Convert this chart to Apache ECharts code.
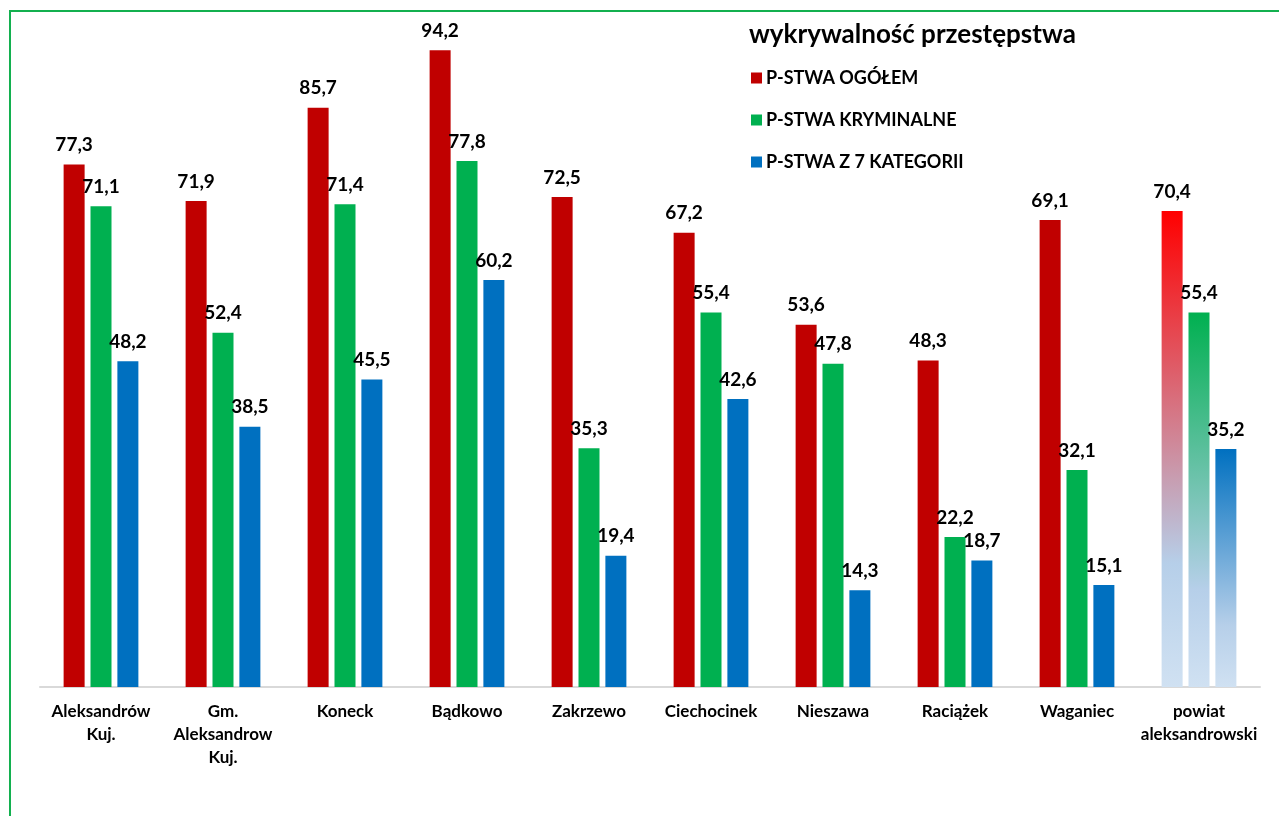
<!DOCTYPE html>
<html>
<head>
<meta charset="utf-8">
<script src="https://cdn.jsdelivr.net/npm/echarts@6/dist/echarts.min.js"></script>
<style>
  html, body { margin: 0; padding: 0; background: #fff; overflow: hidden; }
  #frame { position: absolute; left: 9px; top: 10px; width: 1400px; height: 900px;
           border-left: 2px solid #13b04f; border-top: 2px solid #13b04f; }
  #chart { position: absolute; left: 0; top: 0; width: 1279px; height: 816px; }
</style>
</head>
<body>
<div id="frame"></div>
<div id="chart"></div>
<script>
const categories = ['Aleksandrów\nKuj.', 'Gm.\nAleksandrow\nKuj.', 'Koneck', 'Bądkowo', 'Zakrzewo',
  'Ciechocinek', 'Nieszawa', 'Raciążek', 'Waganiec', 'powiat\naleksandrowski'];
const seriesNames = ['P-STWA OGÓŁEM', 'P-STWA KRYMINALNE', 'P-STWA Z 7 KATEGORII'];
const ogolem = [77.3, 71.9, 85.7, 94.2, 72.5, 67.2, 53.6, 48.3, 69.1, 70.4];
const kryminalne = [71.1, 52.4, 71.4, 77.8, 35.3, 55.4, 47.8, 22.2, 32.1, 55.4];
const kategorii7 = [48.2, 38.5, 45.5, 60.2, 19.4, 42.6, 14.3, 18.7, 15.1, 35.2];
const legendTitle = 'wykrywalność przestępstwa';

const colors = ['#c00000', '#00b050', '#0070c0'];
const topGrad = ['#ff0000', '#00b050', '#0070c0'];

function grad(c) {
  return new echarts.graphic.LinearGradient(0, 0, 0, 1, [
    { offset: 0, color: c },
    { offset: 0.74, color: '#b6cfe9' },
    { offset: 1, color: '#d0e1f2' }
  ]);
}
function makeData(vals, idx) {
  return vals.map((v, i) => i === vals.length - 1
    ? { value: v, itemStyle: { color: grad(topGrad[idx]) } }
    : v);
}
const fontFam = 'Lato, "Open Sans", sans-serif';
const allData = [ogolem, kryminalne, kategorii7];

const chart = echarts.init(document.getElementById('chart'), null, { renderer: 'canvas' });
chart.setOption({
  animation: false,
  backgroundColor: 'transparent',
  title: {
    text: legendTitle, left: 744, top: 17,
    textStyle: { fontFamily: fontFam, fontWeight: 'bold', fontSize: 26, color: '#000' }
  },
  legend: {
    orient: 'vertical', left: 746, top: 64, itemGap: 24,
    itemWidth: 11, itemHeight: 11, icon: 'rect',
    textStyle: { fontFamily: fontFam, fontWeight: 'bold', fontSize: 18, lineHeight: 18, color: '#000', padding: [0, 0, 0, -1] },
    data: seriesNames
  },
  grid: { left: 40, right: 19, top: 11, bottom: 129, containLabel: false },
  xAxis: {
    type: 'category', data: categories,
    axisLine: { lineStyle: { color: '#d9d9d9', width: 2 } },
    axisTick: { show: false },
    axisLabel: { fontFamily: fontFam, fontWeight: 'bold', fontSize: 17, color: '#000',
      lineHeight: 23, margin: 13, interval: 0 }
  },
  yAxis: {
    type: 'value', min: 0, max: 100, show: false,
    splitLine: { show: false }
  },
  series: allData.map((vals, idx) => ({
    name: seriesNames[idx], type: 'bar', barWidth: 21, barGap: '28%',
    itemStyle: { color: colors[idx] },
    data: makeData(vals, idx),
    label: {
      show: true, position: 'top', distance: 10,
      fontFamily: fontFam, fontWeight: 'bold', fontSize: 19, color: '#000',
      formatter: p => String(p.value).replace('.', ',')
    }
  }))
});
</script>
</body>
</html>
